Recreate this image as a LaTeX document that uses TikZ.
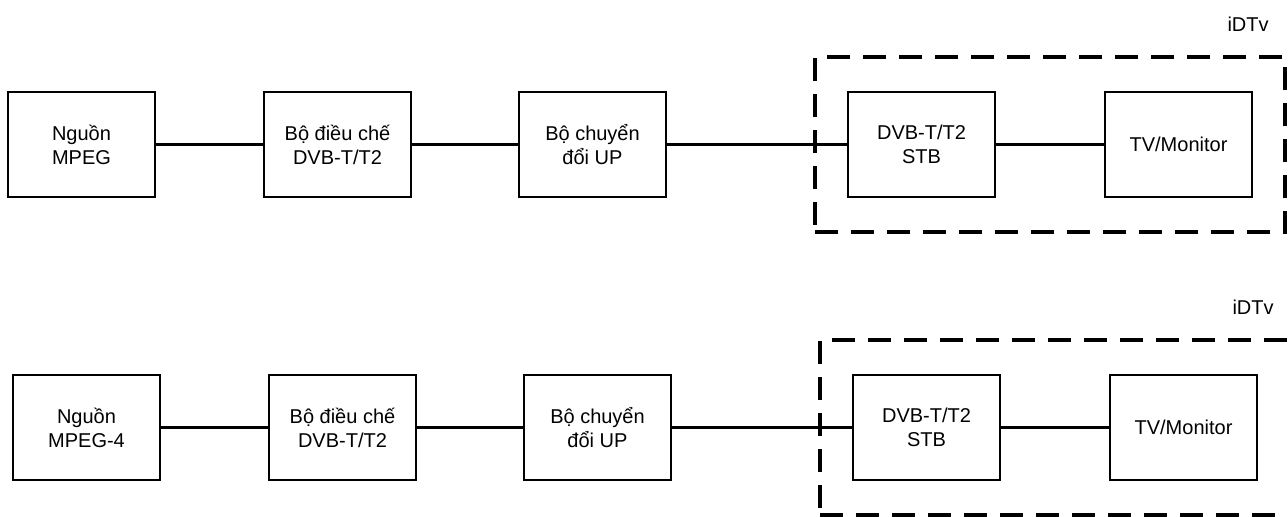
\documentclass[tikz,border=0pt]{standalone}
\usepackage{fontspec}
\setmainfont{Liberation Sans}
\usepackage{tikz}
\usetikzlibrary{positioning,fit}
\tikzstyle{blk}=[rectangle,draw=black,line width=1.15pt,minimum width=73.5pt,outer sep=0pt,
                 minimum height=52.5pt,align=center,font=\fontsize{10}{12}\selectfont]
\tikzstyle{conn}=[line width=1.2pt,draw=black]
\tikzstyle{grp}=[rectangle,draw=black,line width=1.6pt,dash pattern=on 11.5pt off 6.5pt,
                 outer sep=0pt,inner xsep=16.5pt,inner ysep=17.5pt]
\tikzstyle{lbl}=[font=\fontsize{10}{12}\selectfont,inner sep=0pt]

\begin{document}
\begin{tikzpicture}[node distance=54.5pt]
      \useasboundingbox (0,0) rectangle (644pt,-258pt);
      % upper chain
      \node[blk] (a1) at (40.75pt,-72.25pt) {Nguồn\\MPEG};
      \node[blk,right=of a1] (a2) {Bộ điều chế\\DVB-T/T2};
      \node[blk,right=54pt of a2] (a3) {Bộ chuyển\\đổi UP};
      \node[blk,right=91pt of a3] (a4) {DVB-T/T2\\STB};
      \node[blk,right=55pt of a4] (a5) {TV/Monitor};
      \node[grp,fit=(a4)(a5)] (ga) {};
      \node[lbl,above left=12.5pt and 8pt of ga.north east] (la) {iDTv};
      \draw[conn] (a1)--(a2);
      \draw[conn] (a2)--(a3);
      \draw[conn] (a3)--(a4);
      \draw[conn] (a4)--(a5);
      % lower chain
      \node[blk] (b1) at (43.25pt,-213.75pt) {Nguồn\\MPEG-4};
      \node[blk,right=of b1] (b2) {Bộ điều chế\\DVB-T/T2};
      \node[blk,right=54pt of b2] (b3) {Bộ chuyển\\đổi UP};
      \node[blk,right=91pt of b3] (b4) {DVB-T/T2\\STB};
      \node[blk,right=55pt of b4] (b5) {TV/Monitor};
      \node[grp,fit=(b4)(b5)] (gb) {};
      \node[lbl,above left=12.5pt and 8pt of gb.north east] (lb) {iDTv};
      \draw[conn] (b1)--(b2);
      \draw[conn] (b2)--(b3);
      \draw[conn] (b3)--(b4);
      \draw[conn] (b4)--(b5);
    \end{tikzpicture}
\end{document}
